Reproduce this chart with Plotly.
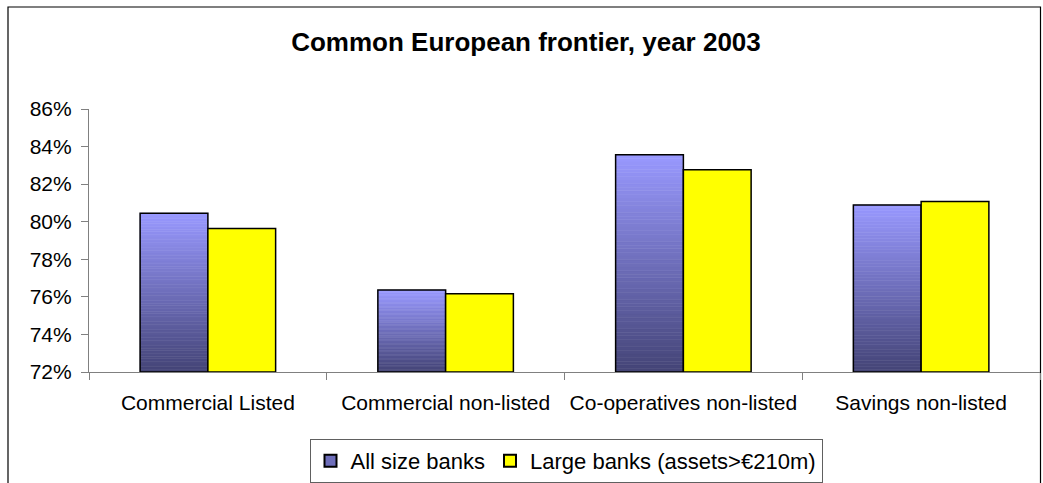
import plotly.graph_objects as go

categories = ["Commercial Listed", "Commercial non-listed", "Co-operatives non-listed", "Savings non-listed"]
all_size = [80.45, 76.36, 83.57, 80.89]
large = [79.64, 76.16, 82.77, 81.08]
series_names = ["All size banks", "Large banks (assets>€210m)"]
y_min, y_max, y_step = 72, 86, 2

W, H = 1043, 483
ML, MR, MT, MB = 89, 3, 109, 111

top_rgb = (153, 153, 255)
bot_rgb = (68, 68, 118)
N = 60

fig = go.Figure()

def mix(t):
    r = [round(b + (a - b) * t) for a, b in zip(top_rgb, bot_rgb)]
    return f"rgb({r[0]},{r[1]},{r[2]})"

# gradient segments for "All size" bars
for i in range(N):
    t = (i + 0.5) / N
    fig.add_trace(go.Bar(
        x=categories,
        base=[y_min + (v - y_min) * i / N for v in all_size],
        y=[(v - y_min) / N for v in all_size],
        offsetgroup="a",
        marker=dict(color=mix(t), line=dict(color=mix(t), width=0.6)),
        showlegend=False, hoverinfo="skip",
    ))
# outline for "All size" bars
fig.add_trace(go.Bar(
    x=categories, base=[y_min] * len(all_size), y=[v - y_min for v in all_size],
    offsetgroup="a", name=series_names[0],
    marker=dict(color="rgba(0,0,0,0)", line=dict(color="black", width=1.5)),
    showlegend=False, hoverinfo="skip",
))
# legend entry for "All size"
fig.add_trace(go.Bar(
    x=categories, y=[None] * len(categories), offsetgroup="a", name=series_names[0],
    marker=dict(color=mix(0.5), line=dict(color="black", width=1.5)),
    showlegend=True,
))
# yellow bars
fig.add_trace(go.Bar(
    x=categories, base=[y_min] * len(large), y=[v - y_min for v in large],
    offsetgroup="b", name=series_names[1],
    marker=dict(color="#FFFF00", line=dict(color="black", width=1.5)),
    showlegend=True,
))

pw = W - ML - MR
ph = H - MT - MB
# outer chart border
fig.add_shape(type="rect", xref="paper", yref="paper",
              x0=(8 - ML) / pw, x1=(1040.5 - ML) / pw,
              y0=(H - MB - 490) / ph, y1=(H - MB - 7) / ph,
              line=dict(color="black", width=1.2), fillcolor="rgba(0,0,0,0)", layer="below")

fig.update_layout(
    width=W, height=H,
    margin=dict(l=ML, r=MR, t=MT, b=MB, pad=0),
    paper_bgcolor="white", plot_bgcolor="white",
    barmode="group", bargap=0.43, bargroupgap=0,
    font=dict(family="Arial, Liberation Sans, sans-serif", size=21, color="black"),
    title=dict(text="<b>Common European frontier, year 2003</b>", x=526 / W, xref="container",
               y=1 - 42 / H, yref="container", xanchor="center", yanchor="middle",
               font=dict(size=26, color="black")),
    xaxis=dict(type="category", tickson="boundaries", ticks="outside", ticklen=7,
               tickcolor="#808080", showline=True, linecolor="#808080", linewidth=1.2,
               showgrid=False, tickfont=dict(size=21), automargin=False,
               ticklabelstandoff=12),
    yaxis=dict(range=[y_min, y_max], dtick=y_step, tick0=y_min, ticksuffix="%",
               ticks="outside", ticklen=7, tickcolor="#808080", showline=True,
               linecolor="#808080", linewidth=1.2, showgrid=False, zeroline=False,
               tickfont=dict(size=21), automargin=False, ticklabelstandoff=5),
    legend=dict(orientation="h", xref="container", yref="container",
                x=566 / W, y=1 - 461 / H, xanchor="center", yanchor="middle",
                bordercolor="#606060", borderwidth=1, bgcolor="white",
                font=dict(size=22), itemsizing="constant", traceorder="normal",
                itemwidth=30),
    showlegend=True,
)

fig.write_html("out.html", config={"displayModeBar": False})
